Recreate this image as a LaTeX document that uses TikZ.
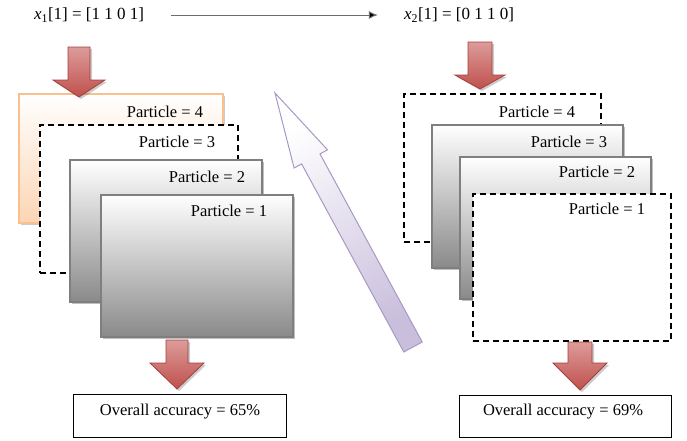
\documentclass[tikz,border=0pt]{standalone}
\usepackage{fontspec}
\setmainfont{Liberation Serif}
\usetikzlibrary{shadows,calc,arrows.meta}
\definecolor{boxline}{HTML}{7F7F7F}
\definecolor{boxbottom}{HTML}{8A8A8A}
\definecolor{orangeline}{HTML}{FAC090}
\definecolor{orangefill}{HTML}{FCD5B4}
\definecolor{redtop}{HTML}{DC9C9A}
\definecolor{redbot}{HTML}{C0504D}
\definecolor{redline}{HTML}{A33F3C}
\definecolor{purpleline}{HTML}{A898C4}
\definecolor{purplefill}{HTML}{C9BEDC}
\newcommand{\redblock}[6]{%
  \draw[redarrow] ({#1-#5},#2) -- ({#1+#5},#2) -- ({#1+#5},#3) -- ({#1+#6},#3) -- (#1,#4) -- ({#1-#6},#3) -- ({#1-#5},#3) -- cycle;}
\begin{document}
\begin{tikzpicture}[x=1pt,y=-1pt,
  font=\fontsize{16.5}{19}\selectfont,
  every node/.style={inner sep=2pt},
  panel/.style={draw=boxline, line width=1.5pt, top color=white, bottom color=boxbottom,
    drop shadow={shadow xshift=2.5pt, shadow yshift=-2.5pt, opacity=0.25, fill=black},
    anchor=north west},
  orangepanel/.style={draw=orangeline, line width=1.5pt, top color=white, bottom color=orangefill,
    drop shadow={shadow xshift=2.5pt, shadow yshift=-2.5pt, opacity=0.2, fill=black},
    anchor=north west},
  dashpanel/.style={draw=black, line width=1.5pt, dash pattern=on 6pt off 4pt, fill=white,
    anchor=north west},
  resultbox/.style={draw=black, line width=0.8pt, fill=white, anchor=north west},
  redarrow/.style={draw=redline, line width=0.8pt, top color=redtop, bottom color=redbot,
    drop shadow={shadow xshift=2pt, shadow yshift=-2pt, opacity=0.2, fill=black}},
  label/.style={inner sep=0pt},
  vec/.style={inner sep=0pt, font=\fontsize{17}{20}\selectfont}
]
\useasboundingbox (0,0) rectangle (687,440);

% top labels and arrow
\node[vec] (x1) at (89,15) {\textit{x}\textsubscript{1}[1] = [1 1 0 1]};
\node[vec] (x2) at (459,15) {\textit{x}\textsubscript{2}[1] = [0 1 1 0]};
\draw[draw=gray!85!black, line width=1pt, -{Latex[length=9pt,width=8pt,fill=black]},
  shorten <=27pt, shorten >=26pt] (x1.east) -- (x2.west);

% left group
\node[orangepanel, minimum width=204pt, minimum height=129pt] (L4) at (18,93) {};
\node[dashpanel, minimum width=198pt, minimum height=148pt] (L3) at (39,124) {};
\node[panel, minimum width=192pt, minimum height=142pt] (L2) at (69,159) {};
\node[panel, minimum width=192pt, minimum height=142pt] (L1) at (100,194) {};
\node[label] (tL4) at (165,112) {Particle = 4};
\node[label] (tL3) at (177,142) {Particle = 3};
\node[label] (tL2) at (207,177) {Particle = 2};
\node[label] (tL1) at (229,211) {Particle = 1};

% right group
\node[dashpanel, minimum width=197pt, minimum height=148pt] (R4) at (403,93) {};
\node[panel, minimum width=191pt, minimum height=143pt] (R3) at (431,124) {};
\node[panel, minimum width=191pt, minimum height=142pt] (R2) at (459,156) {};
\node[dashpanel, minimum width=198pt, minimum height=147pt] (R1) at (472,193) {};
\node[label] (tR4) at (537,112) {Particle = 4};
\node[label] (tR3) at (569,142) {Particle = 3};
\node[label] (tR2) at (597,172) {Particle = 2};
\node[label] (tR1) at (607,209) {Particle = 1};

% result boxes
\node[resultbox, minimum width=213pt, minimum height=43pt] (accL) at (73,394) {};
\node[resultbox, minimum width=212pt, minimum height=42pt] (accR) at (459,395) {};
\node[label] (taccL) at (180,412) {Overall accuracy = 65\%};
\node[label] (taccR) at (563,412) {Overall accuracy = 69\%};

% red block arrows
\redblock{79}{47}{80}{97}{11}{26}
\redblock{480}{42}{75}{89}{12}{25}
\redblock{177}{340}{363}{389}{11}{27}
\redblock{580}{342}{363}{390}{12}{27}

% purple block arrow
\draw[draw=purpleline, line width=1pt, top color=white, bottom color=purplefill, shading angle=28.5]
  (275,93) -- (327.5,149.8) -- (320.0,153.9) -- (422.2,342.0) -- (403.8,352.0)
  -- (301.6,163.9) -- (294.1,168.0) -- cycle;
\end{tikzpicture}
\end{document}
